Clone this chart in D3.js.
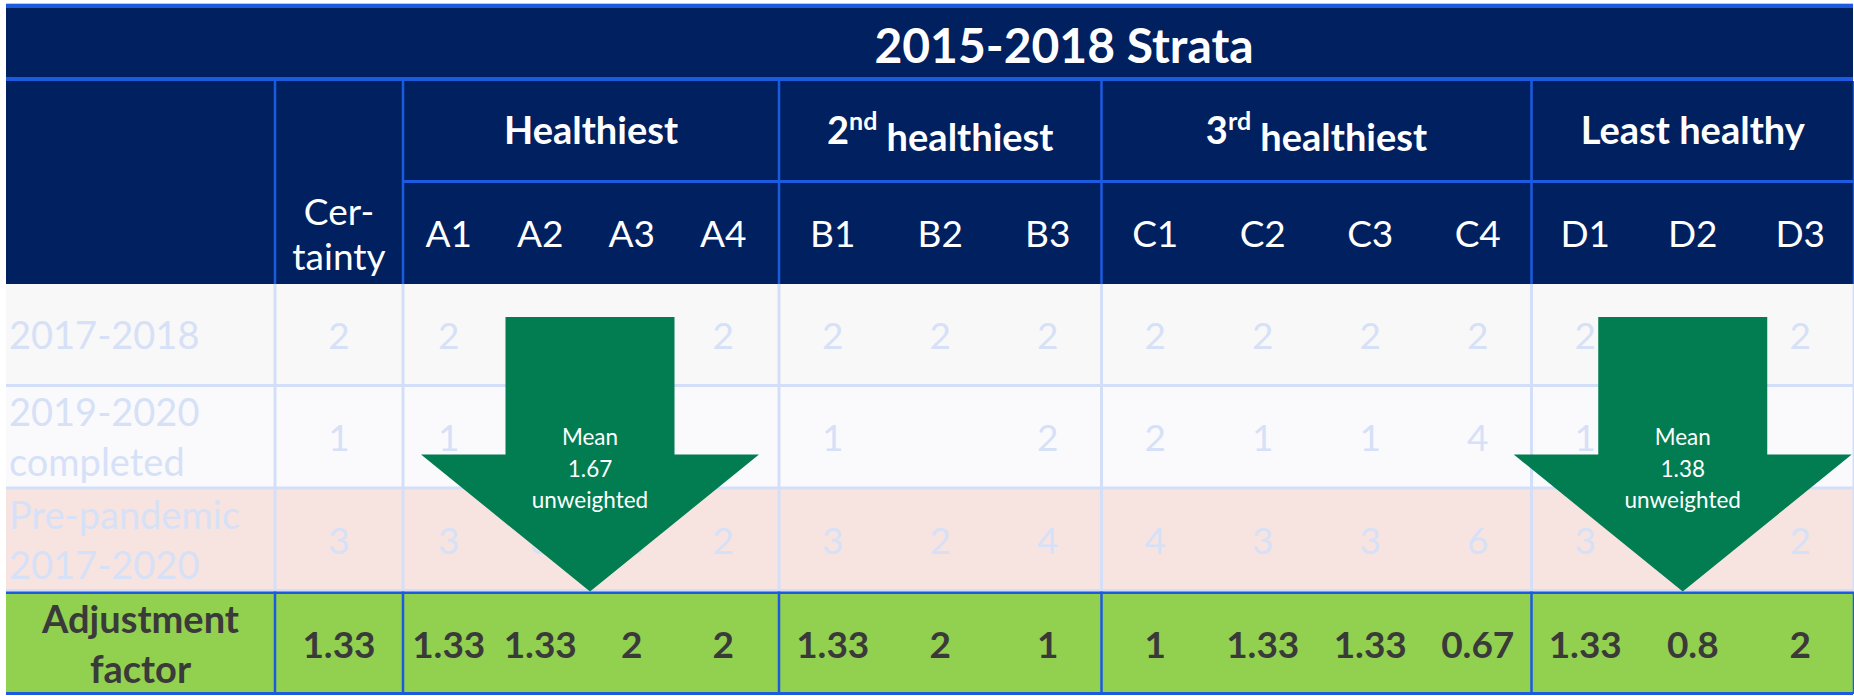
<!DOCTYPE html>
<html>
<head>
<meta charset="utf-8">
<script src="https://cdn.jsdelivr.net/npm/d3@7"></script>
<style>
  body { margin: 0; background: #fff; }
  svg { display: block; font-family: Lato, 'Open Sans', sans-serif; }
</style>
</head>
<body>
<svg id="chart" width="1854" height="696"></svg>
<script>
// table content
const title = '2015-2018 Strata'
const groups = ['Healthiest', '2nd healthiest', '3rd healthiest', 'Least healthy']
const subCols = [['A1', 'A2', 'A3', 'A4'], ['B1', 'B2', 'B3'], ['C1', 'C2', 'C3', 'C4'], ['D1', 'D2', 'D3']]
const certLabel = ['Cer-', 'tainty']
const rowLabels = [['2017-2018'], ['2019-2020', 'completed'], ['Pre-pandemic', '2017-2020']]
const adjLabel = ['Adjustment', 'factor']

// values: certainty first, then A1..D3
const years1718 = [2, 2, 2, 2, 2, 2, 2, 2, 2, 2, 2, 2, 2, 2, 2]
const years1920 = [1, 1, 1, null, null, 1, null, 2, 2, 1, 1, 4, 1, 3, null]
const prePandemic = [3, 3, 3, 2, 2, 3, 2, 4, 4, 3, 3, 6, 3, 5, 2]
const adjustment = [1.33, 1.33, 1.33, 2, 2, 1.33, 2, 1, 1, 1.33, 1.33, 0.67, 1.33, 0.8, 2]

// arrow call-outs
const arrowAnchor = ['A2', 'D2']
const arrowMeans = ['1.67', '1.38']

// colours
const navy = '#002060', blue = '#1c5be0', grid = '#d3dff8'
const light = '#d6e1f7', dark = '#3a3a3a', arrowCol = '#027d52'
const rowFill = ['#f8f8f8', '#fafafc', '#f7e4e1']
const green = '#92d050'

const svg = d3.select('#chart')
const left = 6, right = 1853
const labelW = 269, certW = 128
const colW = [91.5, 107.5, 107.5, 107.5]
const groupTail = [10, 0, 0, 0]   // spare room at the right of a group

// x layout: label col, certainty col, then each group
let xCert = left + labelW
let gStart = xCert + certW
let groupEdges = [xCert, gStart]
let scX = {} // column key -> band scale
let groupX = []
subCols.forEach((cols, gi) => {
    let bandEnd = gStart + cols.length * colW[gi]
    let end = bandEnd + groupTail[gi]
    let sc = d3.scaleBand().domain(cols).range([gStart, bandEnd])
    cols.forEach(c => scX[c] = sc)
    groupX.push([gStart, end])
    groupEdges.push(end)
    gStart = end
})
const colKeys = ['cert', ...subCols.flat()]
const colCenter = k => k === 'cert' ? xCert + certW / 2 : scX[k](k) + scX[k].bandwidth() / 2

// y layout
const yTitle = [8, 79], yGroup = [79, 181], ySub = [181, 284]
const scY = d3.scaleBand().domain([0, 1, 2, 3]).range([284, 694])

// arrow shapes (needed early so covered cells are not drawn under them)
const shaftHalf = 84.5, headHalf = 169
const arrows = arrowAnchor.map((k, i) => {
    let sc = scX[k]
    let cx = i === 0 ? sc(k) + sc.bandwidth() + 4 : sc(k) + sc.bandwidth() / 2 - 10
    let top = scY(0) + 33, neck = scY(1) + 68, tip = scY(3)
    let pts = [[cx - shaftHalf, top], [cx + shaftHalf, top], [cx + shaftHalf, neck], [cx + headHalf, neck],
        [cx, tip], [cx - headHalf, neck], [cx - shaftHalf, neck]]
    return {cx, pts, mean: arrowMeans[i]}
})
const hidden = (x, y) => arrows.some(a =>
    [[-10, -14], [10, -14], [-10, 14], [10, 14]].every(([dx, dy]) => d3.polygonContains(a.pts, [x + dx, y + dy])))

// header background
svg.append('rect').attr('x', left).attr('y', 3).attr('width', right - left).attr('height', 1).attr('fill', '#c9c9c9')
svg.append('rect').attr('x', left).attr('y', 4).attr('width', right - left).attr('height', 280).attr('fill', navy)
svg.append('rect').attr('x', left).attr('y', 4).attr('width', right - left).attr('height', 4).attr('fill', blue)
svg.append('rect').attr('x', left).attr('y', 77).attr('width', right - left).attr('height', 4).attr('fill', blue)
svg.append('rect').attr('x', groupEdges[1]).attr('y', 180).attr('width', right - groupEdges[1]).attr('height', 3).attr('fill', blue)
svg.append('g').selectAll('rect').data(groupEdges).enter().append('rect')
    .attr('x', d => d - 1.25).attr('y', 81).attr('width', 2.5).attr('height', 203).attr('fill', blue)

// body rows
const bodyRows = [years1718, years1920, prePandemic]
bodyRows.forEach((row, i) => {
    svg.append('rect').attr('x', left).attr('y', scY(i)).attr('width', right - left)
        .attr('height', scY.bandwidth()).attr('fill', rowFill[i])
})
svg.append('rect').attr('x', left).attr('y', scY(3)).attr('width', right - left)
    .attr('height', scY.bandwidth()).attr('fill', green)

// light grid in body
let gl = svg.append('g')
gl.selectAll('rect.v').data(groupEdges).enter().append('rect')
    .attr('x', d => d - 1.5).attr('y', scY(0)).attr('width', 3).attr('height', scY(3) - scY(0)).attr('fill', grid)
gl.selectAll('rect.h').data([1, 2, 3]).enter().append('rect')
    .attr('x', left).attr('y', d => scY(d) - 2.5).attr('width', right - left).attr('height', 3).attr('fill', grid)

// adjustment row borders
svg.append('rect').attr('x', left).attr('y', scY(3)).attr('width', right - left).attr('height', 2.5).attr('fill', blue)
svg.append('rect').attr('x', left).attr('y', 692).attr('width', right - left).attr('height', 3).attr('fill', blue)
svg.append('g').selectAll('rect').data(groupEdges).enter().append('rect')
    .attr('x', d => d - 1.25).attr('y', scY(3)).attr('width', 2.5).attr('height', scY.bandwidth()).attr('fill', blue)

// header texts
const txt = (g, x, y, s, size, weight, fill, anchor) => g.append('text')
    .attr('x', x).attr('y', y).attr('dy', '0.36em')
    .attr('text-anchor', anchor || 'middle')
    .attr('font-size', size).attr('font-weight', weight).attr('fill', fill).text(s)

let head = svg.append('g')
// title sits over certainty + strata columns
txt(head, (xCert + right) / 2, (yTitle[0] + yTitle[1]) / 2 + 2, title, 48, 'bold', '#fff')

groups.forEach((name, gi) => {
    let cx = (groupX[gi][0] + groupX[gi][1]) / 2
    let cy = (yGroup[0] + yGroup[1]) / 2
    let m = name.match(/^(\d)(st|nd|rd|th)( .*)$/)
    let t = txt(head, cx, cy, m ? null : name, 38, 'bold', '#fff')
    if (m) {
        t.append('tspan').text(m[1])
        t.append('tspan').attr('font-size', 25).attr('dy', '-0.55em').text(m[2])
        t.append('tspan').attr('dy', '0.55em').text(m[3].replace(' ', '\u00a0'))
    }
})

subCols.flat().forEach(k => txt(head, colCenter(k), (ySub[0] + ySub[1]) / 2 + 1, k, 37, 'normal', '#fff'))
certLabel.forEach((s, i) => txt(head, colCenter('cert'), 212 + i * 45, s, 37, 'normal', '#fff'))

// body texts
let body = svg.append('g')
bodyRows.forEach((row, i) => {
    let cy = scY(i) + scY.bandwidth() / 2
    let lines = rowLabels[i]
    lines.forEach((s, j) => txt(body, left + 3, cy + (j - (lines.length - 1) / 2) * 50, s, 38, 'normal', light, 'start'))
    row.forEach((v, c) => {
        let cx = colCenter(colKeys[c])
        if (v == null || hidden(cx, cy)) return
        txt(body, cx, cy, String(v), 37, 'normal', light)
    })
})
let adjY = scY(3) + scY.bandwidth() / 2 + 2
adjLabel.forEach((s, j) => txt(body, left + labelW / 2, adjY + (j - 0.5) * 50, s, 38, 'bold', dark))
adjustment.forEach((v, c) => txt(body, colCenter(colKeys[c]), adjY, String(v), 37, 'bold', dark))

// arrows on top
arrows.forEach(a => {
    let g = svg.append('g')
    g.append('path').attr('d', d3.line()(a.pts) + 'Z').attr('fill', arrowCol)
    ;['Mean', a.mean, 'unweighted'].forEach((s, j) =>
        txt(g, a.cx, 437 + j * 31.5, s, 22.5, 'normal', '#fff'))
})
</script>
</body>
</html>
